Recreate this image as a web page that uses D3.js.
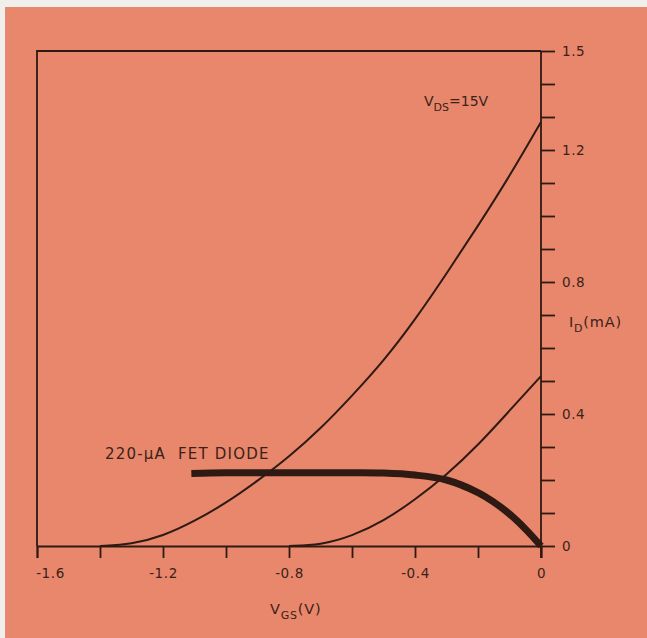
<!DOCTYPE html>
<html><head><meta charset="utf-8">
<script src="https://cdn.jsdelivr.net/npm/d3@7"></script>
<style>
html,body{margin:0;padding:0;background:#f1efec;}
svg{display:block;}
text{font-family:"DejaVu Sans","Liberation Sans",sans-serif;fill:#3a2219;}
</style></head>
<body><svg id="c" width="647" height="638"></svg>
<script>
// Data
const vgsUpper = [-1.4,-1.3,-1.2,-1.1,-1.0,-0.9,-0.8,-0.7,-0.6,-0.5,-0.4,-0.3,-0.2,-0.1,0];
const idUpper  = [0,0.005,0.03,0.075,0.13,0.197,0.27,0.355,0.455,0.56,0.685,0.825,0.97,1.12,1.285];
const vgsLower = [-0.8,-0.7,-0.6,-0.5,-0.4,-0.3,-0.2,-0.1,0];
const idLower  = [0,0.003,0.03,0.075,0.14,0.215,0.305,0.41,0.515];
const vgsDiode = [-1.11,-1.0,-0.8,-0.6,-0.5,-0.4,-0.3,-0.2,-0.15,-0.1,-0.05,0];
const idDiode  = [0.22,0.222,0.222,0.222,0.221,0.215,0.2,0.162,0.133,0.097,0.052,0];
const xTickVals = [-1.6,-1.4,-1.2,-1.0,-0.8,-0.6,-0.4,-0.2,0];
const xTickLabels = {"-1.6":"-1.6","-1.2":"-1.2","-0.8":"-0.8","-0.4":"-0.4","0":"0"};
const yTickVals = [0,0.1,0.2,0.3,0.4,0.5,0.6,0.7,0.8,0.9,1.0,1.1,1.2,1.3,1.4,1.5];
const yTickLabels = {"0":"0","0.4":"0.4","0.8":"0.8","1.2":"1.2","1.5":"1.5"};

const ink = "#2e1a13";
const txt = "#3e2419";
const svg = d3.select("#c");
svg.append("rect").attr("x",5).attr("y",7).attr("width",642).attr("height",631).attr("fill","#e8876c");

const x = d3.scaleLinear().domain([-1.6,0]).range([37,541]);
const y = d3.scaleLinear().domain([0,1.5]).range([546,51]);

// frame (top and left)
svg.append("path").attr("d",`M${x(0)},${y(1.5)}H${x(-1.6)}V${y(0)}`)
  .attr("fill","none").attr("stroke",ink).attr("stroke-width",1.8);

const key = v => String(Math.round(v*10)/10);

const xAxis = d3.axisBottom(x).tickValues(xTickVals).tickSize(12).tickPadding(10)
  .tickFormat(v => xTickLabels[key(v)] || "");
const gx = svg.append("g").attr("transform",`translate(0,${y(0)})`).call(xAxis);
gx.select(".domain").attr("stroke",ink).attr("stroke-width",1.8);
gx.selectAll(".tick line").attr("stroke",ink).attr("stroke-width",1.8);
gx.selectAll(".tick text").attr("font-size",13.5).attr("fill",txt).attr("letter-spacing",0.6)
  .style("font-family","'DejaVu Sans',sans-serif");
gx.selectAll(".tick text").filter(d => key(d)==="-1.6").attr("dx",13);

const yAxis = d3.axisRight(y).tickValues(yTickVals).tickSize(14).tickPadding(7)
  .tickFormat(v => yTickLabels[key(v)] || "");
const gy = svg.append("g").attr("transform",`translate(${x(0)},0)`).call(yAxis);
gy.select(".domain").attr("stroke",ink).attr("stroke-width",1.8).attr("d",`M0,${y(1.5)}V${y(0)+12}`);
gy.selectAll(".tick line").attr("stroke",ink).attr("stroke-width",1.8);
gy.selectAll(".tick text").attr("font-size",13.5).attr("fill",txt).attr("letter-spacing",0.6)
  .style("font-family","'DejaVu Sans',sans-serif");

const line = d3.line().x(d=>x(d[0])).y(d=>y(d[1])).curve(d3.curveBasis);
const up = vgsUpper.map((v,i)=>[v,idUpper[i]]);
const lo = vgsLower.map((v,i)=>[v,idLower[i]]);
const di = vgsDiode.map((v,i)=>[v,idDiode[i]]);
svg.append("path").attr("d",line(up)).attr("fill","none").attr("stroke",ink).attr("stroke-width",2);
svg.append("path").attr("d",line(lo)).attr("fill","none").attr("stroke",ink).attr("stroke-width",2);
svg.append("path").attr("d",d3.line().x(d=>x(d[0])).y(d=>y(d[1])).curve(d3.curveCatmullRom)(di))
  .attr("fill","none").attr("stroke",ink).attr("stroke-width",7).attr("stroke-linecap","butt");

// labels
const t1 = svg.append("text").attr("x",424).attr("y",106).attr("font-size",14).attr("fill",txt);
t1.append("tspan").text("V");
t1.append("tspan").attr("font-size",11).attr("dy",5).text("DS");
t1.append("tspan").attr("dy",-5).text("=15V");

const t2 = svg.append("text").attr("x",569).attr("y",327).attr("font-size",14.5).attr("fill",txt).attr("letter-spacing",0.8);
t2.append("tspan").text("I");
t2.append("tspan").attr("font-size",11).attr("dy",5).text("D");
t2.append("tspan").attr("dy",-5).text("(mA)");

const t3 = svg.append("text").attr("x",270).attr("y",614).attr("font-size",14.5).attr("fill",txt).attr("letter-spacing",0.8);
t3.append("tspan").text("V");
t3.append("tspan").attr("font-size",11).attr("dy",5).text("GS");
t3.append("tspan").attr("dy",-5).text("(V)");

svg.append("text").attr("x",105).attr("y",459).attr("font-size",15).attr("letter-spacing",1.2).attr("fill",txt)
  .style("white-space","pre")
  .text("220-\u03BCA  FET DIODE");
</script></body></html>
